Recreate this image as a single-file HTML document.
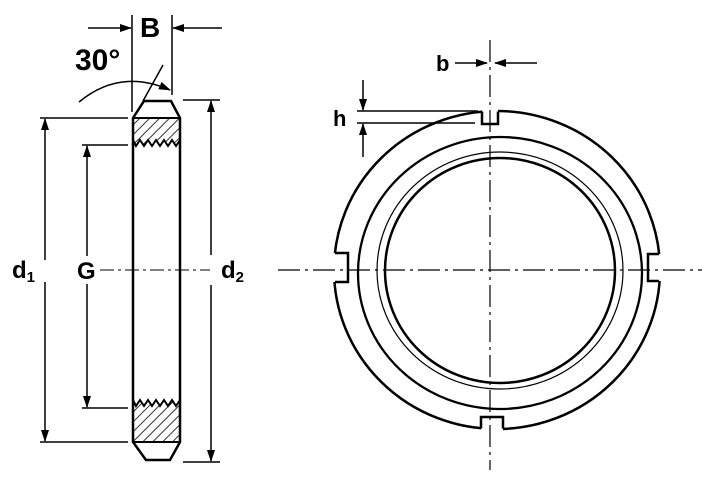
<!DOCTYPE html>
<html><head><style>body{margin:0;background:#fff}</style></head><body>
<svg width="726" height="483" viewBox="0 0 726 483" xmlns="http://www.w3.org/2000/svg" font-family="Liberation Sans, sans-serif" font-weight="bold">
<defs>
<marker id="a" markerWidth="12" markerHeight="8" refX="11" refY="4" orient="auto" markerUnits="userSpaceOnUse"><path d="M0,0 L12,4 L0,8 Z" fill="#000"/></marker>
<pattern id="h" width="7" height="7" patternUnits="userSpaceOnUse" patternTransform="rotate(45)"><line x1="0" y1="0" x2="0" y2="7" stroke="#000" stroke-width="1.6"/></pattern>
<mask id="m"><rect width="726" height="483" fill="#fff"/>
<rect x="482" y="100" width="16" height="24" fill="#000"/>
<rect x="481" y="417" width="22" height="24" fill="#000"/>
<rect x="320" y="253" width="28" height="29" fill="#000"/>
<rect x="648" y="254" width="25" height="27" fill="#000"/>
</mask>
</defs>
<g stroke="#000" fill="none">
<path d="M133,118 L144,101 L171,101 L180,118 L180,442 L170,460 L146,460 L133,442 Z" stroke-width="2.5"/>
<path d="M133,118 L180,118 L180,140 L176,146 L172,140 L168,146 L164,140 L160,146 L156,140 L152,146 L148,140 L144,146 L140,140 L136,146 L133,140 Z" fill="url(#h)" stroke-width="2"/>
<path d="M133,442 L180,442 L180,400 L176,406 L172,400 L168,406 L164,400 L160,406 L156,400 L152,406 L148,400 L144,406 L140,400 L136,406 L133,400 Z" fill="url(#h)" stroke-width="2"/>
<g stroke-width="1.5">
<line x1="40" y1="118" x2="128" y2="118"/><line x1="40" y1="442" x2="128" y2="442"/>
<line x1="45" y1="260" x2="45" y2="119" marker-end="url(#a)"/><line x1="45" y1="282" x2="45" y2="441" marker-end="url(#a)"/>
<line x1="82" y1="145" x2="128" y2="145"/><line x1="82" y1="408" x2="128" y2="408"/>
<line x1="87" y1="258" x2="87" y2="146" marker-end="url(#a)"/><line x1="87" y1="284" x2="87" y2="407" marker-end="url(#a)"/>
<line x1="183" y1="100" x2="220" y2="100"/><line x1="183" y1="462" x2="220" y2="462"/>
<line x1="211" y1="255" x2="211" y2="101" marker-end="url(#a)"/><line x1="211" y1="285" x2="211" y2="461" marker-end="url(#a)"/>
<line x1="132" y1="15" x2="132" y2="112"/><line x1="172" y1="15" x2="172" y2="95"/>
<line x1="88" y1="28" x2="131" y2="28" marker-end="url(#a)"/><line x1="222" y1="28" x2="173" y2="28" marker-end="url(#a)"/>
<path d="M79,102 Q120,68 170,90" marker-end="url(#a)"/>
<line x1="143" y1="101" x2="163" y2="65"/>
<line x1="100" y1="270" x2="210" y2="270" stroke-dasharray="14,4,3,4" stroke-width="1"/>
</g>
<g mask="url(#m)">
<ellipse cx="497" cy="270" rx="163" ry="159" stroke-width="2.5"/>
</g>
<g stroke-width="2.5">
<path d="M482,111.5 L482,124 L498,124 L498,111.5"/>
<path d="M481,428.5 L481,417 L503,417 L503,428.5"/>
<path d="M335,253 L348,253 L348,282 L335,282"/>
<path d="M659,254 L648,254 L648,281 L659,281"/>
</g>
<ellipse cx="500" cy="273" rx="142" ry="136" stroke-width="2.3"/>
<ellipse cx="500" cy="270.5" rx="123" ry="118.5" stroke-width="1.2"/>
<ellipse cx="500" cy="270.5" rx="115" ry="112.5" stroke-width="2.5"/>
<g stroke-width="1.2">
<line x1="278" y1="270" x2="702" y2="270" stroke-dasharray="22,5,3,5"/>
<line x1="490" y1="40" x2="490" y2="470" stroke-dasharray="22,5,3,5"/>
</g>
<g stroke-width="1.5">
<line x1="455" y1="63" x2="487" y2="63" marker-end="url(#a)"/><line x1="537" y1="63" x2="495" y2="63" marker-end="url(#a)"/>
<line x1="357" y1="111" x2="478" y2="111"/><line x1="357" y1="123" x2="475" y2="123"/>
<line x1="363" y1="80" x2="363" y2="110" marker-end="url(#a)"/><line x1="363" y1="157" x2="363" y2="124" marker-end="url(#a)"/>
</g>
</g>
<g fill="#000">
<text x="140" y="37" font-size="28">B</text>
<text x="75" y="70" font-size="30">30°</text>
<text x="12" y="278" font-size="24">d<tspan font-size="15" dy="4">1</tspan></text>
<rect x="72" y="256" width="28" height="28" fill="#fff"/>
<text x="77" y="279" font-size="24">G</text>
<text x="221" y="278" font-size="24">d<tspan font-size="15" dy="4">2</tspan></text>
<text x="436" y="71" font-size="22">b</text>
<text x="333" y="126" font-size="22">h</text>
</g>
</svg>
</body></html>
